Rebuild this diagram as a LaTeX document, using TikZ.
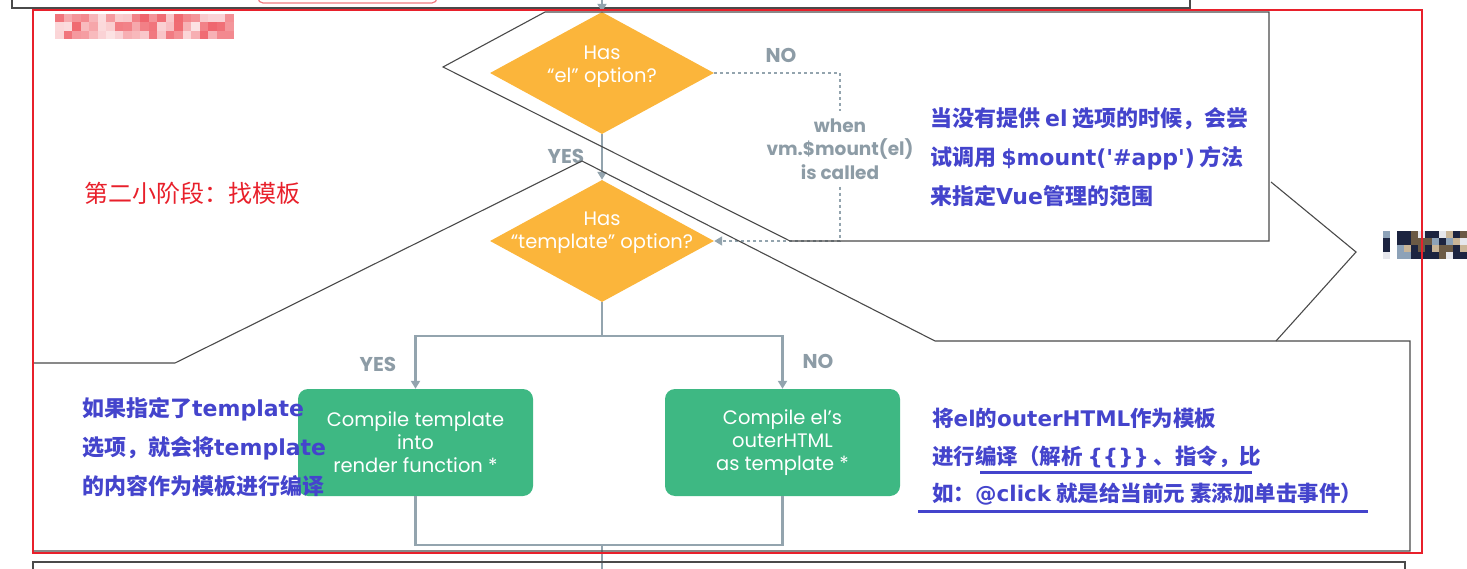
\documentclass[tikz,border=0pt]{standalone}
\usepackage{fontspec}
\usepackage{xcolor}
\usetikzlibrary{arrows.meta,positioning,shapes.geometric,calc}
\setmainfont{Poppins}
\newfontfamily\notecjk{Noto Sans CJK SC}
\newfontfamily\notelatinface{DejaVu Sans}
\newcommand{\notelatin}[1]{{\notelatinface#1}}
\definecolor{vueFrame}{HTML}{4A4A4A}
\definecolor{vueFlow}{HTML}{93A4AE}
\definecolor{vueLabel}{HTML}{8D9CA6}
\definecolor{vueOrange}{HTML}{FBB53B}
\definecolor{vueGreen}{HTML}{3EB883}
\definecolor{noteBlue}{HTML}{4444CC}
\definecolor{noteRed}{HTML}{E8202B}
\definecolor{mosaicA}{HTML}{1C2440}
\definecolor{mosaicB}{HTML}{C9B597}
\definecolor{mosaicC}{HTML}{8DA2B8}
\definecolor{mosaicD}{HTML}{E6E7EC}
\definecolor{mosaicE}{HTML}{6B5A45}
\tikzset{
  % One unit is one pixel of the screenshot; y grows downwards.
  vue/base/.style={
    x=1pt,y=-1pt,
    line cap=butt,
    line join=miter
  },
  vue/decision/.style={
    diamond,
    fill=vueOrange,
    minimum width=224pt,
    minimum height=122pt,
    inner sep=0pt
  },
  vue/decision text/.style={
    font=\fontsize{19.5pt}{23pt}\selectfont,
    text=white,
    align=center,
    inner sep=0pt
  },
  vue/compile box/.style={
    rectangle,
    rounded corners=10pt,
    fill=vueGreen,
    minimum width=235pt,
    minimum height=107pt,
    inner sep=0pt,
    align=center,
    text=white,
    font=\fontsize{19.5pt}{23pt}\selectfont
  },
  vue/flow/.style={
    draw=vueFlow,
    line width=2.4pt
  },
  vue/flow arrow/.style={
    vue/flow,
    -{Triangle[length=8pt,width=9pt]}
  },
  vue/no branch/.style={
    draw=vueFlow,
    line width=1.8pt,
    dash pattern=on 3pt off 3pt
  },
  vue/branch label/.style={
    font=\bfseries\fontsize{20pt}{22pt}\selectfont,
    text=vueLabel,
    inner sep=0pt
  },
  note/frame/.style={
    draw=vueFrame,
    line width=1.1pt
  },
  note/blue/.style={
    font=\notecjk\bfseries\fontsize{22pt}{39pt}\selectfont,
    text=noteBlue,
    align=left,
    anchor=west,
    inner sep=0pt
  },
  note/underline/.style={
    draw=noteBlue,
    line width=3pt
  }
}
\begin{document}
\begin{tikzpicture}[vue/base]
  \path[use as bounding box] (0,0) rectangle (1467,569);

  % Remains of the previous section, cut by the top edge.
  \draw[note/frame] (12,0) -- (12,8) -- (1190,8) -- (1190,0);
  \draw[noteRed!60,line width=1.2pt,rounded corners=5pt] (258,-8) rectangle (437,3);
  \pgfmathsetseed{7}
  \foreach \col in {0,...,20}
    \foreach \row in {0,1,2} {
      \pgfmathsetmacro\tint{int(10+60*rnd)}
      \fill[noteRed!\tint] (55+8.5*\col,14+8.5*\row) rectangle ++(8.5,8.5);
    }
  \def\mosaicColors{{"mosaicA","mosaicB","mosaicC","mosaicD","mosaicE","mosaicA"}}
  \foreach \col in {0,2,3,4,5,6,7,8,9,10,11}
    \foreach \row in {0,1,2,3} {
      \pgfmathsetmacro\tone{\mosaicColors[int(6*rnd)]}
      \fill[\tone] (1383+7*\col,231+7*\row) rectangle ++(7,7);
    }

  % Flowchart
  \node[vue/decision] (hasEl) at (602,73) {};
  \node[vue/decision text] (hasElText) at (602,67) {Has\\“el” option?};
  \node[vue/decision] (hasTemplate) at (602,241) {};
  \node[vue/decision text] (hasTemplateText) at (602,233) {Has\\“template” option?};
  \node[vue/compile box] (compileTemplate) at (415.5,442.5)
    {Compile template\\into\\render function *};
  \node[vue/compile box] (compileEl) at (782.5,442.5)
    {Compile el’s\\outerHTML\\as template *};
  \node[vue/branch label,align=center,inner ysep=7pt,
    font=\bfseries\fontsize{18.5pt}{23.5pt}\selectfont] (mountNote) at (840,149)
    {when\\vm.\$mount(el)\\is called};
  \node[vue/branch label] (elNo) at (781,55) {NO};
  \node[vue/branch label] (elYes) at (566,156) {YES};
  \node[vue/branch label] (templateYes) at (378,364) {YES};
  \node[vue/branch label] (templateNo) at (818,361) {NO};

  \coordinate (flowIn) at (602,0);
  \coordinate (split) at (602,336);
  \coordinate (merge) at (602,545);
  \coordinate (flowOut) at (602,569);
  \draw[vue/flow arrow] (flowIn) -- (hasEl.north);
  \draw[vue/flow arrow] (hasEl.south) -- (hasTemplate.north);
  \draw[vue/no branch] (hasEl.east) -| (mountNote.north);
  \draw[vue/no branch,-{Triangle[length=8pt,width=9pt]}]
    (mountNote.south) |- (hasTemplate.east);
  \draw[vue/flow] (hasTemplate.south) -- (split);
  \draw[vue/flow arrow] (split) -| (compileTemplate.north);
  \draw[vue/flow arrow] (split) -| (compileEl.north);
  \draw[vue/flow] (compileTemplate.south) |- (merge) -| (compileEl.south);
  \draw[vue/flow] (merge) -- (flowOut);

  % Callout frames of the annotations
  \draw[note/frame] (443,67) -- (545,12) -- (1269,12) -- (1269,241) -- (790,241) -- cycle;
  \draw[note/frame] (33,363) -- (175,363) -- (582,161) -- (935,341) -- (1410,341)
    -- (1410,551) -- (33,551) -- cycle;
  \draw[note/frame] (1271,182) -- (1356,252) -- (1276,341);
  \draw[note/frame] (33,569) -- (33,562) -- (1405,562) -- (1405,569);

  % Annotations
  \node[font=\notecjk\fontsize{24pt}{26pt}\selectfont,text=noteRed,anchor=west,inner sep=0pt]
    (stageTitle) at (84,193) {第二小阶段：找模板};
  \node[note/blue] (elNote) at (930,157)
    {当没有提供 \notelatin{el} 选项的时候，会尝\\试调用 \notelatin{\$mount(\textquotesingle\#app\textquotesingle)} 方法\\来指定\notelatin{Vue}管理的范围};
  \node[note/blue] (templateNote) at (82,447)
    {如果指定了\notelatin{template}\\选项，就会将\notelatin{template}\\的内容作为模板进行编译};
  \node[note/blue,font=\notecjk\bfseries\fontsize{21.5pt}{37.5pt}\selectfont]
    (outerNote) at (932,457)
    {将\notelatin{el}的\notelatin{outerHTML}作为模板\\进行编译（解析 \notelatin{\{\{\}\}} 、指令，比\\如：\notelatin{@click} 就是给当前元 素添加单击事件）};
  \draw[note/underline] (980,472) -- (1252,472);
  \draw[note/underline] (918,511) -- (1368,511);

  \draw[noteRed,line width=1.8pt] (33,10) rectangle (1422,553);
\end{tikzpicture}
\end{document}
